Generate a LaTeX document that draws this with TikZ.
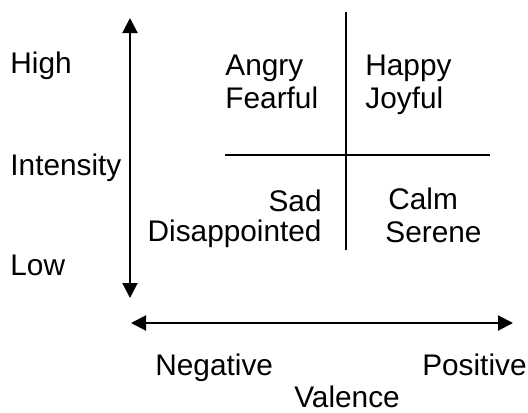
\documentclass[tikz,border=0pt]{standalone}
\usepackage{fontspec}
\setmainfont{Liberation Sans}
\usetikzlibrary{arrows.meta, positioning}

\begin{document}
\begin{tikzpicture}[x=0.5pt, y=-0.5pt, font=\fontsize{14.9}{17}\selectfont,
  lab/.style={inner sep=0pt},
  axis/.style={line width=1pt, {Triangle[length=7.5pt,width=7.5pt]}-{Triangle[length=7.5pt,width=7.5pt]}},
  split/.style={line width=0.75pt}]
\useasboundingbox (0,0) rectangle (528,412);

% intensity axis
\coordinate (itop) at (130,18);
\coordinate (ibot) at (130,298);
\draw[axis] (itop) -- (ibot);
\node[lab, anchor=base west] (high) at (10,73) {High};
\node[lab, anchor=base west] (intensity) at (10,175) {Intensity};
\node[lab, anchor=base west] (low) at (10,275) {Low};

% valence axis
\coordinate (vleft) at (131,323);
\coordinate (vright) at (513,323);
\draw[axis] (vleft) -- (vright);
\node[lab, anchor=base west] (negative) at (155,375) {Negative};
\node[lab, anchor=base east] (positive) at (527,375) {Positive};
\node[lab, anchor=base] (valence) at (347,407) {Valence};

% quadrants
\coordinate (qtop) at (346,12);
\coordinate (qbot) at (346,250);
\coordinate (qleft) at (225,155);
\coordinate (qright) at (490,155);
\draw[split] (qtop) -- (qbot);
\draw[split] (qleft) -- (qright);

\node[lab, anchor=base west] (angry) at (225,75) {Angry};
\node[lab, anchor=base west] (fearful) at (225,108) {Fearful};
\node[lab, anchor=base west] (happy) at (365,75) {Happy};
\node[lab, anchor=base west] (joyful) at (365,108) {Joyful};
\node[lab, anchor=base east] (sad) at (322,211) {Sad};
\node[lab, anchor=base east] (disappointed) at (322,241) {Disappointed};
\node[lab, anchor=base west] (calm) at (388,209) {Calm};
\node[lab, anchor=base west] (serene) at (385,242) {Serene};
\end{tikzpicture}
\end{document}
